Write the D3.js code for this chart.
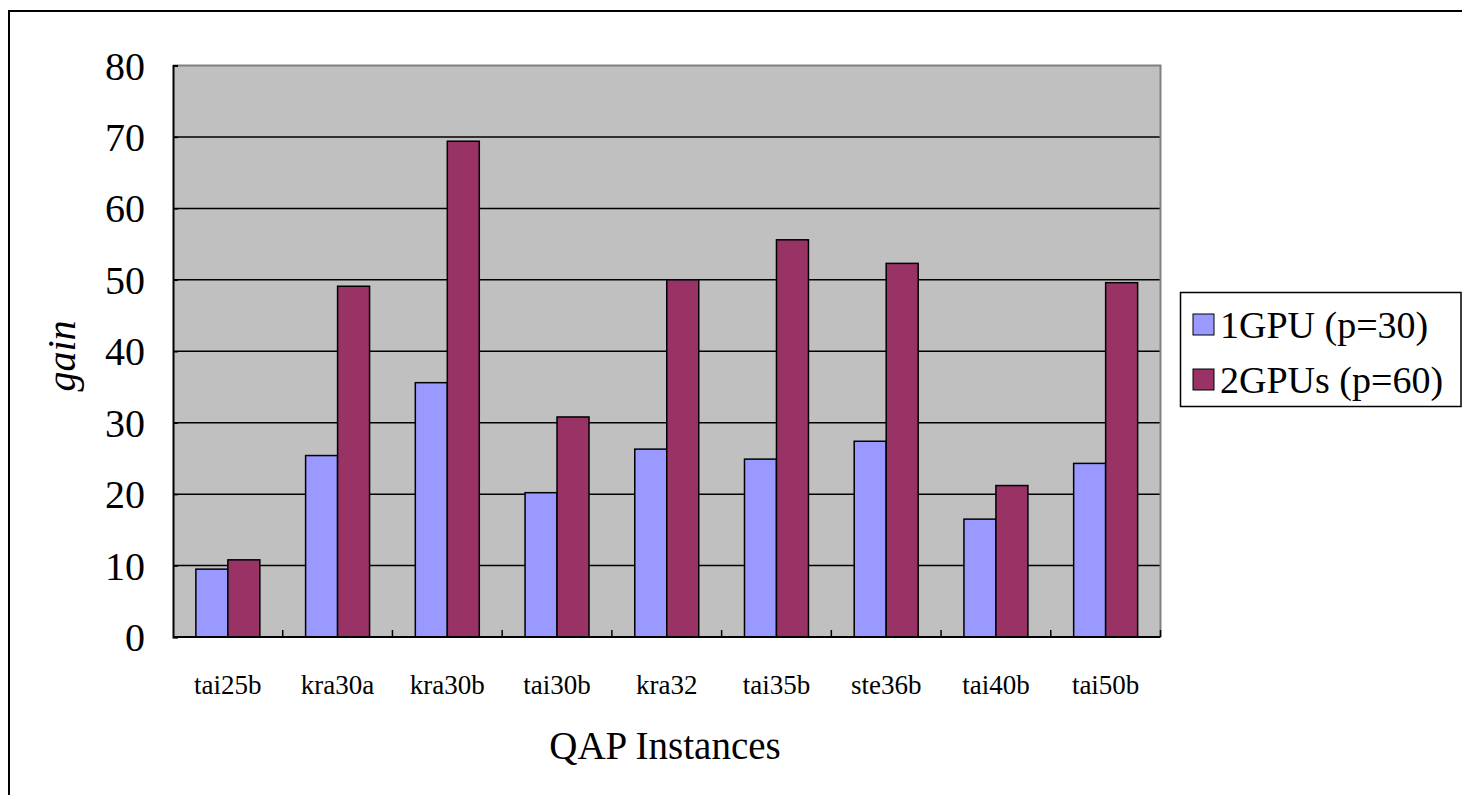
<!DOCTYPE html>
<html>
<head>
<meta charset="utf-8">
<script src="https://cdn.jsdelivr.net/npm/d3@7"></script>
<style>
  html, body { margin: 0; padding: 0; background: #fff; }
  svg { display: block; font-family: "Liberation Serif", "Times New Roman", serif; }
</style>
</head>
<body>
<svg id="chart" width="1462" height="795"></svg>
<script>
// QAP instances and gains for the two GPU configurations
const categories = ["tai25b", "kra30a", "kra30b", "tai30b", "kra32", "tai35b", "ste36b", "tai40b", "tai50b"];
const seriesNames = ["1GPU (p=30)", "2GPUs (p=60)"];
const gain1GPU = [9.5, 25.4, 35.6, 20.2, 26.3, 24.9, 27.4, 16.5, 24.3];
const gain2GPU = [10.8, 49.1, 69.4, 30.8, 50.0, 55.6, 52.3, 21.2, 49.6];
const yTicks = [0, 10, 20, 30, 40, 50, 60, 70, 80];
const colors = ["#9999FF", "#993366"];

const series = [gain1GPU, gain2GPU];

const svg = d3.select("#chart");

// outer chart frame
svg.append("rect")
  .attr("x", 9).attr("y", 11)
  .attr("width", 1470).attr("height", 800)
  .attr("fill", "#fff").attr("stroke", "#000").attr("stroke-width", 2);

const plot = { left: 173, right: 1160.5, top: 65.5, bottom: 637 };

const y = d3.scaleLinear().domain([0, 80]).range([plot.bottom, plot.top]);
const x0 = d3.scaleBand().domain(categories)
  .range([plot.left, plot.right])
  .paddingInner(0.417).paddingOuter(0.2085);
const x1 = d3.scaleBand().domain(d3.range(series.length))
  .range([0, x0.bandwidth()]);

// plot area background
svg.append("rect")
  .attr("x", plot.left).attr("y", plot.top)
  .attr("width", plot.right - plot.left).attr("height", plot.bottom - plot.top)
  .attr("fill", "#C0C0C0");

// horizontal gridlines
svg.append("g")
  .selectAll("line")
  .data(yTicks.filter(d => d > 0 && d < 80))
  .join("line")
  .attr("x1", plot.left).attr("x2", plot.right)
  .attr("y1", d => y(d)).attr("y2", d => y(d))
  .attr("stroke", "#000").attr("stroke-width", 1.5);

// top and right frame of plot area
svg.append("path")
  .attr("d", `M${plot.left},${plot.top}H${plot.right}V${plot.bottom}`)
  .attr("fill", "none").attr("stroke", "#808080").attr("stroke-width", 2);

// bars
svg.append("g")
  .selectAll("g")
  .data(categories)
  .join("g")
  .attr("transform", d => `translate(${x0(d)},0)`)
  .selectAll("rect")
  .data((d, i) => series.map((s, k) => ({ k, v: s[i] })))
  .join("rect")
  .attr("x", d => x1(d.k))
  .attr("width", x1.bandwidth())
  .attr("y", d => y(d.v))
  .attr("height", d => y(0) - y(d.v))
  .attr("fill", d => colors[d.k])
  .attr("stroke", "#000").attr("stroke-width", 1.5);

// y axis
const yAxis = d3.axisLeft(y).tickValues(yTicks).tickSize(-5).tickPadding(28);
const gy = svg.append("g").attr("transform", `translate(${plot.left},0)`).call(yAxis);
gy.attr("font-family", null);
gy.select(".domain").attr("stroke", "#000").attr("stroke-width", 2);
gy.selectAll(".tick line").attr("stroke", "#000").attr("stroke-width", 1.5);
gy.selectAll(".tick text")
  .attr("font-size", 40).attr("fill", "#000")
  .attr("dy", "0.34em");

// x axis: ticks between categories, pointing up into the plot
const boundaries = d3.range(categories.length + 1).map(i => plot.left + i * x0.step());
const gx = svg.append("g");
gx.append("line")
  .attr("x1", plot.left).attr("x2", plot.right)
  .attr("y1", plot.bottom).attr("y2", plot.bottom)
  .attr("stroke", "#000").attr("stroke-width", 2);
gx.selectAll("line.tk")
  .data(boundaries.slice(1))
  .join("line").attr("class", "tk")
  .attr("x1", d => d).attr("x2", d => d)
  .attr("y1", plot.bottom).attr("y2", plot.bottom - 7)
  .attr("stroke", "#000").attr("stroke-width", 1.5);
gx.selectAll("text")
  .data(categories)
  .join("text")
  .attr("x", d => x0(d) + x0.bandwidth() / 2)
  .attr("y", 694)
  .attr("text-anchor", "middle")
  .attr("font-size", 27)
  .attr("fill", "#000")
  .text(d => d);

// axis titles
svg.append("text")
  .attr("x", 665).attr("y", 759)
  .attr("text-anchor", "middle")
  .attr("font-size", 39)
  .text("QAP Instances");

svg.append("text")
  .attr("transform", "translate(75,356) rotate(-90)")
  .attr("text-anchor", "middle")
  .attr("font-size", 40)
  .attr("font-style", "italic")
  .text("gain");

// legend
const legend = svg.append("g");
legend.append("rect")
  .attr("x", 1180.5).attr("y", 292.5)
  .attr("width", 280.5).attr("height", 114)
  .attr("fill", "#fff").attr("stroke", "#000").attr("stroke-width", 1.5);
const rows = legend.selectAll("g.row")
  .data(seriesNames)
  .join("g").attr("class", "row")
  .attr("transform", (d, i) => `translate(0,${i * 55})`);
rows.append("rect")
  .attr("x", 1193).attr("y", 314)
  .attr("width", 21).attr("height", 21)
  .attr("fill", (d, i) => colors[i])
  .attr("stroke", "#000").attr("stroke-width", 1);
rows.append("text")
  .attr("x", 1220).attr("y", 338)
  .attr("font-size", 38)
  .text(d => d);
</script>
</body>
</html>
